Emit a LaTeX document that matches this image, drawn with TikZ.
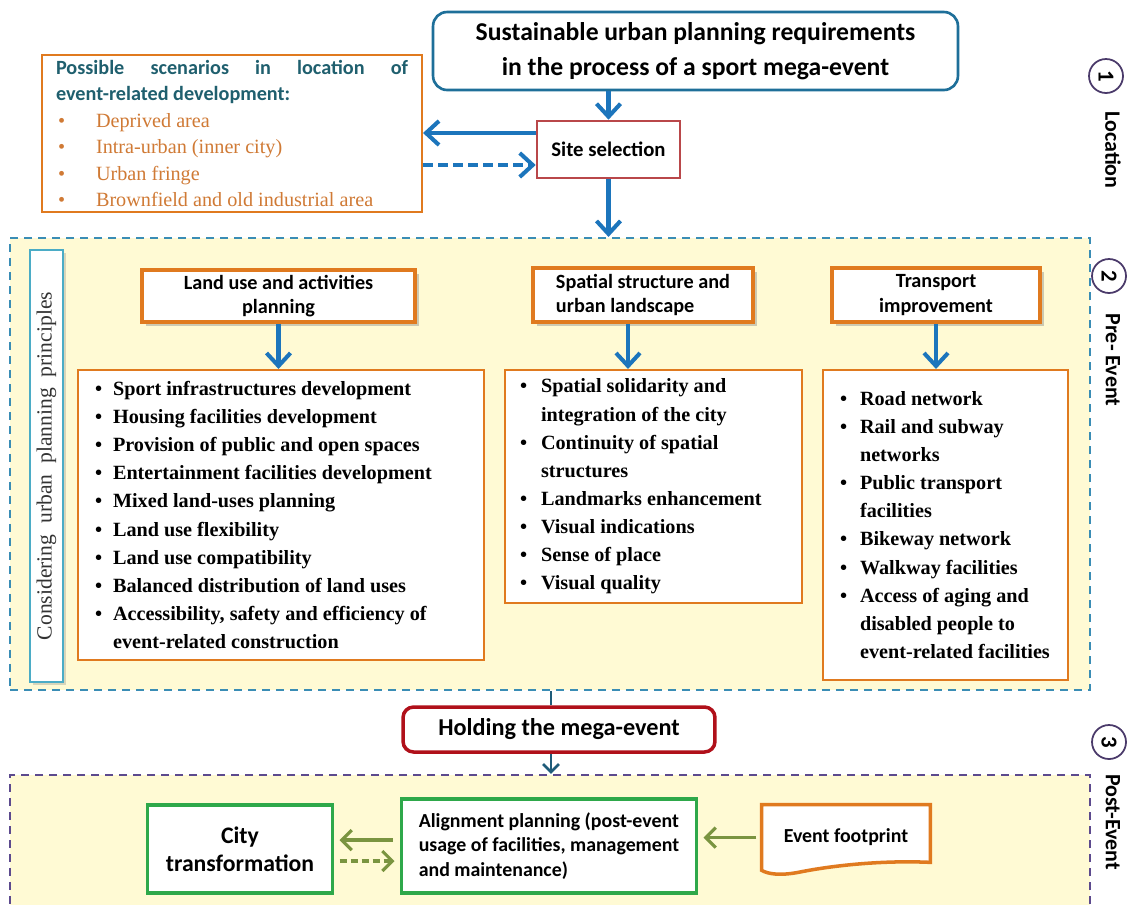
\documentclass[tikz,border=0pt]{standalone}
\usepackage{fontspec}
\setmainfont{Liberation Serif}
\setsansfont{Carlito}
\usepackage{xcolor}
\usepackage{tikz}
\usetikzlibrary{positioning,arrows.meta,shadows}

\definecolor{titlebd}{HTML}{1E6F99}
\definecolor{arrowblue}{HTML}{1C75BC}
\definecolor{sitebd}{HTML}{B9474A}
\definecolor{orangebd}{HTML}{E07A1F}
\definecolor{scenhead}{HTML}{1F5F6E}
\definecolor{scentext}{HTML}{D07A35}
\definecolor{prebd}{HTML}{3A8DB5}
\definecolor{prefill}{HTML}{FFFAD4}
\definecolor{consbd}{HTML}{4BACC6}
\definecolor{holdbd}{HTML}{B0101A}
\definecolor{holdline}{HTML}{1F5C7A}
\definecolor{postbd}{HTML}{5C4A8E}
\definecolor{greenbd}{HTML}{2EA84A}
\definecolor{olive}{HTML}{7A9440}
\definecolor{circbd}{HTML}{4A3A6A}

\newenvironment{dotlist}[2]{%
  \begin{list}{\textbullet}{%
    \setlength{\leftmargin}{#1}\setlength{\labelwidth}{#1}%
    \setlength{\labelsep}{0pt}\setlength{\itemsep}{0pt}%
    \setlength{\parsep}{0pt}\setlength{\topsep}{0pt}%
    \setlength{\partopsep}{0pt}%
    \renewcommand{\makelabel}[1]{\hspace*{#2}##1\hfil}}}%
  {\end{list}}

\begin{document}
\begin{tikzpicture}[x=0.02cm, y=-0.02cm, >={Straight Barb[length=2.6mm,width=4.8mm]},
  every node/.style={font=\sffamily\bfseries}]
\tikzstyle{head}=[draw=orangebd, line width=2pt, fill=white, inner sep=0pt, align=center,
  drop shadow={opacity=0.4, shadow xshift=0.08cm, shadow yshift=-0.08cm},
  font=\sffamily\bfseries\fontsize{11.5}{14}\selectfont]
\tikzstyle{listbox}=[draw=orangebd, line width=1.2pt, fill=white, inner sep=0pt,
  font=\rmfamily\bfseries\fontsize{11.5}{16}\selectfont]
\tikzstyle{greenbox}=[draw=greenbd, line width=2pt, fill=white, inner sep=0pt]
\tikzstyle{bluearrow}=[->, draw=arrowblue, line width=2.3pt]
\tikzstyle{olivearrow}=[-{Straight Barb[length=2mm,width=4mm]}, draw=olive, line width=1.8pt]
\tikzstyle{phase}=[circle, draw=circbd, line width=1pt, minimum size=0.68cm, inner sep=0pt,
  rotate=-90, font=\sffamily\bfseries\fontsize{13}{13}\selectfont]
\tikzstyle{phaselabel}=[rotate=-90, font=\sffamily\bfseries\fontsize{12.5}{13}\selectfont]

\clip (0,0) rectangle (1131,904);
\fill[white] (0,0) rectangle (1131,904);

\node[draw=titlebd, line width=1.5pt, rounded corners=8pt, fill=white, minimum width=10.5cm,
  minimum height=1.56cm, align=center, font=\sffamily\bfseries\fontsize{14.6}{19.8}\selectfont]
  (req) at (695.5,51) {Sustainable urban planning requirements\\in the process of a sport mega-event};
\node[draw=sitebd, line width=1.5pt, fill=white, minimum width=2.86cm, minimum height=1.14cm,
  font=\sffamily\bfseries\fontsize{11.8}{13}\selectfont] (site) at (608.5,149.5) {Site selection};
\node[draw=orangebd, line width=1.2pt, fill=white, minimum width=7.6cm, minimum height=3.14cm,
  inner sep=0pt] (scen) at (232,133.5) {\begin{minipage}{7.04cm}
  \fontsize{11.5}{15}\selectfont
  {\sffamily\bfseries\color{scenhead}Possible scenarios in location of\linebreak
  event-related development:\par}
  \rmfamily\mdseries\color{scentext}
  \begin{dotlist}{0.8cm}{0.04cm}
  \item Deprived area
  \item Intra-urban (inner city)
  \item Urban fringe
  \item Brownfield and old industrial area
  \end{dotlist}
  \end{minipage}};

\node[draw=prebd, line width=1.3pt, dash pattern=on 0.16cm off 0.12cm, fill=prefill,
  minimum width=21.6cm, minimum height=9.04cm] (pre) at (550,464) {};
\node[draw=consbd, line width=1.2pt, fill=white, rotate=90, minimum width=8.64cm,
  minimum height=0.66cm, inner sep=0pt, text=black!80,
  drop shadow={opacity=0.3, shadow xshift=0.06cm, shadow yshift=-0.06cm},
  font=\rmfamily\fontsize{12.3}{14}\selectfont] (cons) at (46.5,466)
  {Considering\ \ urban\ \ planning\ \ principles};

\node[head, minimum width=5.46cm, minimum height=1.04cm] (lu) at (278.5,296)
  {Land use and activities\\planning};
\node[head, minimum width=4.4cm, minimum height=1.08cm, align=left] (ss) at (643,295)
  {Spatial structure and\\urban landscape};
\node[head, minimum width=4.16cm, minimum height=1.08cm] (tr) at (936,295)
  {Transport\\improvement};

\node[listbox, minimum width=8.12cm, minimum height=5.8cm] (lul) at (281,515)
  {\begin{minipage}{7.8cm}\raggedright
  \begin{dotlist}{0.54cm}{0.18cm}
  \item Sport infrastructures development
  \item Housing facilities development
  \item Provision of public and open spaces
  \item Entertainment facilities development
  \item Mixed land-uses planning
  \item Land use flexibility
  \item Land use compatibility
  \item Balanced distribution of land uses
  \item Accessibility, safety and efficiency of\\event-related construction
  \end{dotlist}
  \end{minipage}};
\node[listbox, minimum width=5.94cm, minimum height=4.66cm] (ssl) at (653.5,486.5)
  {\begin{minipage}{5.6cm}\raggedright
  \begin{dotlist}{0.55cm}{0.13cm}
  \item Spatial solidarity and\\integration of the city
  \item Continuity of spatial\\structures
  \item Landmarks enhancement
  \item Visual indications
  \item Sense of place
  \item Visual quality
  \end{dotlist}
  \end{minipage}};
\node[listbox, minimum width=4.9cm, minimum height=6.2cm] (trl) at (945.5,525)
  {\begin{minipage}{4.6cm}\raggedright
  \begin{dotlist}{0.59cm}{0.19cm}
  \item Road network
  \item Rail and subway\\networks
  \item Public transport\\facilities
  \item Bikeway network
  \item Walkway facilities
  \item Access of aging and\\disabled people to\\event-related facilities
  \end{dotlist}
  \end{minipage}};

\node[draw=holdbd, line width=2pt, rounded corners=6pt, fill=white, minimum width=6.24cm,
  minimum height=0.9cm, font=\sffamily\bfseries\fontsize{13.8}{15}\selectfont]
  (hold) at (559,729.5) {Holding the mega-event};

\node[draw=postbd, line width=1.3pt, dash pattern=on 0.16cm off 0.12cm, fill=prefill,
  minimum width=21.6cm, minimum height=3.1cm] (post) at (550,852.5) {};
\node[greenbox, minimum width=3.7cm, minimum height=1.76cm, align=center,
  font=\sffamily\bfseries\fontsize{13.5}{16}\selectfont] (city) at (240,849) {City\\transformation};
\node[greenbox, minimum width=5.9cm, minimum height=1.88cm, align=left,
  font=\sffamily\bfseries\fontsize{11.3}{14}\selectfont] (align) at (549,846)
  {Alignment planning (post-event\\usage of facilities, management\\and maintenance)};
\node[minimum width=3.36cm, minimum height=1.3cm, inner sep=0pt] (foot) at (846,837.5) {};
\draw[draw=orangebd, line width=2pt, fill=white]
  (foot.north west) -- (foot.north east) -- ([yshift=0.16cm]foot.south east)
  .. controls (880,860) and (830,866) .. (800,872)
  .. controls (780,876) and (768,874) .. (foot.south west) -- cycle;
\node[font=\sffamily\bfseries\fontsize{11.3}{13}\selectfont] at (foot.center) {Event footprint};

\node[phase] (p1) at (1106,76) {1};
\node[phaselabel] at (1113,150) {Location};
\node[phase] (p2) at (1109,276) {2};
\node[phaselabel] at (1113,360) {Pre- Event};
\node[phase] (p3) at (1109,742) {3};
\node[phaselabel] at (1113,822) {Post-Event};

\draw[bluearrow] (req.south -| site.north) -- (site.north);
\draw[bluearrow] ([yshift=0.33cm]site.west) -- ([yshift=0.33cm]site.west -| scen.east);
\draw[bluearrow, dash pattern=on 0.2cm off 0.1cm] ([yshift=-0.31cm]site.west -| scen.east) -- ([yshift=-0.31cm]site.west);
\draw[bluearrow] (site.south) -- (site.south |- pre.north);
\draw[bluearrow] (lu.south) -- (lu.south |- lul.north);
\draw[bluearrow] ([xshift=-0.3cm]ss.south) -- ([xshift=-0.3cm]ss.south |- ssl.north);
\draw[bluearrow] (tr.south) -- (tr.south |- trl.north);
\draw[draw=holdline, line width=1.5pt] ([xshift=-0.16cm]hold.north |- pre.south) -- ([xshift=-0.16cm]hold.north);
\draw[draw=holdline, line width=1.5pt, -{Straight Barb[length=1.6mm,width=3.2mm]}]
  ([xshift=-0.16cm]hold.south) -- ([xshift=-0.16cm]hold.south |- post.north);
\draw[olivearrow, shorten <=4pt, shorten >=3pt] ([yshift=0.12cm]align.west) -- ([yshift=0.12cm]align.west -| city.east);
\draw[olivearrow, dash pattern=on 0.14cm off 0.08cm, shorten <=3pt, shorten >=3pt]
  ([yshift=-0.3cm]align.west -| city.east) -- ([yshift=-0.3cm]align.west);
\draw[olivearrow, shorten <=3pt, shorten >=3pt] (foot.west) -- (foot.west -| align.east);
\end{tikzpicture}
\end{document}
